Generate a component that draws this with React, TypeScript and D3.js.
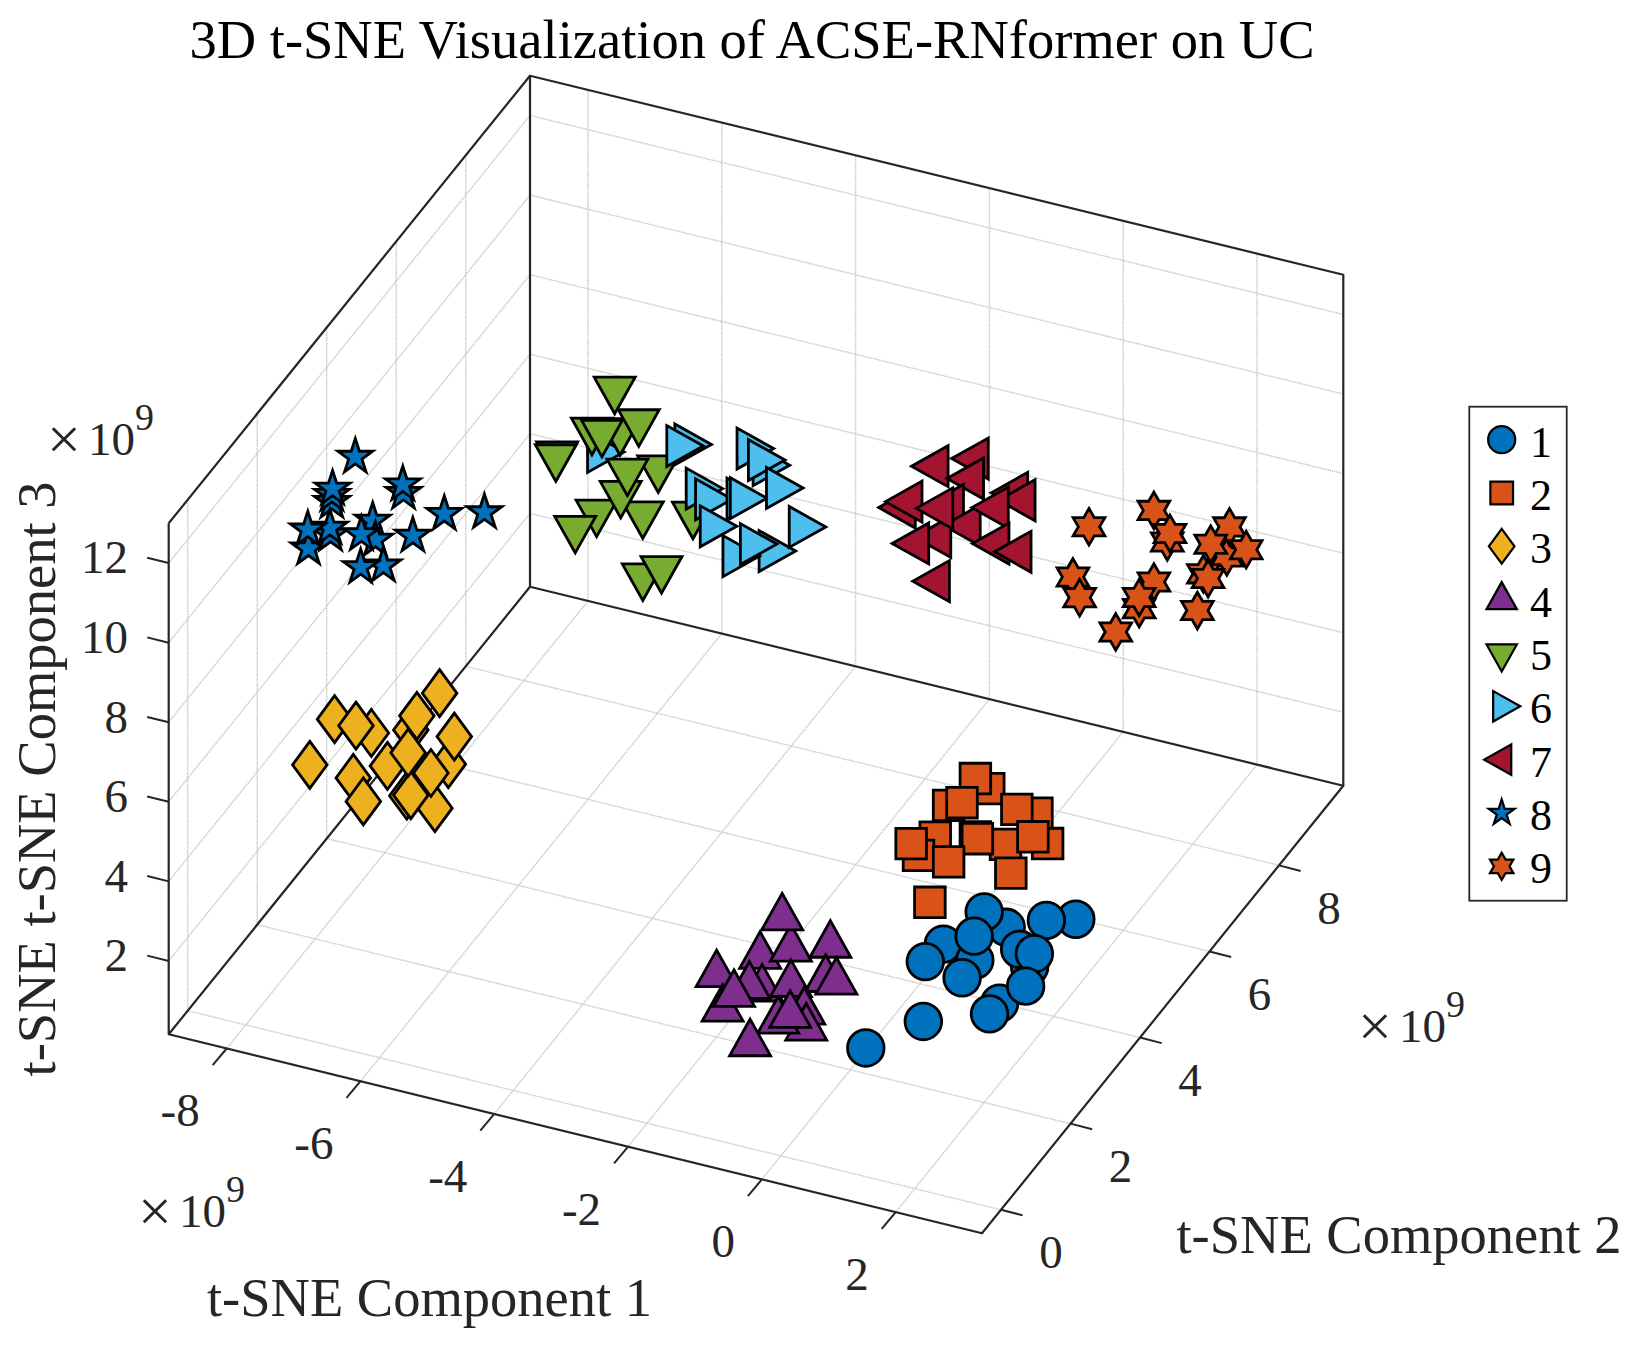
import React, { useEffect, useRef } from 'react';
import * as d3 from 'd3';

const titleText = '3D t-SNE Visualization of ACSE-RNformer on UC';
const xLabelText = 't-SNE Component 1';
const yLabelText = 't-SNE Component 2';
const zLabelText = 't-SNE t-SNE Component 3';

const xLimits = [-8.867, 3.29];
const yLimits = [-0.547, 9.85];
const zLimits = [0.156, 13.0];
const xTicks = [-8, -6, -4, -2, 0, 2];
const yTicks = [0, 2, 4, 6, 8];
const zTicks = [2, 4, 6, 8, 10, 12];

// values are in units of 1e9. one view can't give the depth of a point, so y is picked per cluster
const cluster1 = [
  [2.85, 3, 4.03], [2.41, 3, 3.82], [1.81, 3, 3.4], [1.48, 3, 3.65], [0.87, 3, 2.59], [1.34, 3, 2.38],
  [0.6, 3, 2.04], [1.15, 3, 1.86], [1.33, 3, 2.98], [2.16, 3, 2.55], [2.01, 3, 2.93], [2.23, 3, 2.91],
  [1.71, 3, 1.45], [2.1, 3, 2.04], [1.82, 2.5, 1.77], [1.09, 2, 1.82], [0.23, 2, 0.8],
];
const cluster2 = [
  [0.25, 5.5, 3.54], [0.05, 5.5, 3.71], [-0.35, 5.5, 2.87], [-0.15, 5.5, 3.02], [0.97, 5.5, 3.22], [0.67, 5.5, 3.19],
  [-0.55, 5.5, 1.99], [-0.8, 5.5, 1.43], [-0.91, 5.5, 1.68], [0.05, 5.5, 2.24], [0.5, 5.5, 2.24], [1.13, 5.5, 2.52],
  [0.08, 5.5, 2.21], [0.91, 5.5, 2.6], [-0.35, 5.5, 1.45], [0.58, 5.5, 1.55], [-0.63, 5.5, 0.32],
];
const cluster3 = [
  [-6.53, 3, 4.07], [-7.68, 3, 4.38], [-8.23, 3, 4.5], [-7.91, 3, 4.47], [-7.09, 3, 4.7], [-6.66, 3, 5.8],
  [-7.0, 3, 5.09], [-6.44, 3, 4.8], [-7.44, 3, 3.65], [-7.95, 3, 3.14], [-6.73, 3, 2.88], [-7.15, 3, 3.02],
  [-7.09, 3, 3.06], [-7.13, 3, 4.11], [-6.79, 3, 3.74], [-8.6, 3, 3.2], [-7.8, 3, 2.61],
];
const cluster4 = [
  [-1.09, 1.5, 3.26], [-0.63, 1.5, 3.63], [-0.76, 1.5, 4.36], [-0.04, 1.5, 3.97], [-1.74, 1.5, 2.53], [-1.06, 1.5, 2.45],
  [-1.25, 1.5, 2.44], [-0.11, 1.5, 3.08], [0.05, 1.5, 3.08], [-0.63, 1.5, 2.74], [-1.65, 1.5, 1.7], [-1.48, 1.5, 2.14],
  [-0.43, 1.5, 2.13], [-0.4, 1.5, 1.74], [-0.82, 1.5, 1.74], [-0.64, 1.5, 1.96], [-1.24, 1.5, 1.0],
];
const cluster5 = [
  [-6.64, 8, 7.88], [-6.56, 8, 6.87], [-6.28, 8, 7.21], [-6.98, 8, 6.71], [-6.83, 8, 6.72], [-7.5, 8, 5.9],
  [-7.52, 8, 5.82], [-5.99, 8, 6.17], [-6.91, 8, 4.68], [-6.22, 8, 4.92], [-6.55, 8, 5.3], [-6.45, 8, 5.9],
  [-5.47, 8, 5.22], [-7.23, 8, 4.14], [-6.22, 8, 3.36], [-5.94, 8, 3.66],
];
const cluster6 = [
  [-6.98, 8.4, 5.89], [-5.26, 7.6, 7.65], [-5.38, 7.6, 7.56], [-4.33, 7.6, 7.93], [-4.09, 7.6, 7.61], [-4.16, 7.6, 7.71],
  [-5.09, 7.6, 6.61], [-4.95, 7.6, 6.4], [-4.48, 7.6, 6.61], [-4.43, 7.6, 6.64], [-3.89, 7.6, 7.12], [-4.88, 7.6, 5.75],
  [-4.0, 7.6, 5.49], [-4.54, 7.6, 5.14], [-4.28, 7.6, 5.55], [-3.55, 7.6, 6.28],
];
const cluster7 = [
  [-1.33, 8, 8.48], [-1.93, 8, 8.04], [-1.4, 8, 7.95], [-2.42, 8, 6.8], [-2.32, 8, 6.99], [-1.7, 8, 7.16],
  [-1.45, 8, 6.75], [-1.89, 8, 6.28], [-1.86, 8, 7.01], [-0.74, 8, 7.86], [-0.63, 8, 7.72], [-1.03, 8, 7.37],
  [-2.22, 8, 5.98], [-1.02, 8, 6.47], [-0.69, 8, 6.4], [-1.91, 8, 5.16],
];
const cluster8 = [
  [-8.62, 3, 8.63], [-8.27, 3, 9.94], [-8.27, 3, 10.12], [-8.26, 3, 10.28], [-7.2, 3, 10.61], [-7.21, 3, 10.82],
  [-7.92, 3, 11.22], [-8.29, 3, 9.11], [-8.3, 3, 9.28], [-8.63, 3, 9.1], [-7.66, 3, 9.72], [-7.62, 3, 9.26],
  [-7.83, 3, 9.31], [-6.59, 3, 10.33], [-5.99, 3, 10.62], [-7.06, 3, 9.59], [-7.5, 3, 8.66], [-7.84, 3, 8.48],
];
const cluster9 = [
  [0.19, 8.5, 6.85], [1.16, 8.5, 7.66], [1.36, 8.5, 6.95], [1.4, 8.5, 7.18], [2.25, 8.5, 6.94], [2.29, 8.5, 7.71],
  [2.01, 8.5, 7.16], [2.54, 8.5, 7.24], [1.9, 8.5, 6.37], [1.97, 8.5, 6.28], [1.81, 8.5, 5.41], [-0.05, 8.5, 5.49],
  [0.05, 8.5, 5.01], [1.16, 8.5, 5.86], [0.94, 8.5, 5.1], [0.94, 8.5, 5.38], [0.59, 8.5, 4.37],
];

const clusters = [cluster1, cluster2, cluster3, cluster4, cluster5, cluster6, cluster7, cluster8, cluster9];
const clusterNames = ['1', '2', '3', '4', '5', '6', '7', '8', '9'];
const clusterColours = ['#0072BD', '#D95319', '#EDB120', '#7E2F8E', '#77AC30', '#4DBEEE', '#A2142F', '#0072BD', '#D95319'];

const axisColour = '#262626';
const gridColour = '#cacaca';
const serif = "'Liberation Serif', 'Times New Roman', serif";

// marker outlines around (0,0), one per cluster
const polarPoints = (n: number, outer: number, inner: number) =>
  d3.range(n * 2).map(i => {
    const a = (Math.PI * i) / n;
    const r = i % 2 === 0 ? outer : inner;
    return [r * Math.sin(a), -r * Math.cos(a)] as [number, number];
  });

const R = 18.3;
const markerOutlines: [number, number][][] = [
  [],
  [[-15.3, -15.3], [15.3, -15.3], [15.3, 15.3], [-15.3, 15.3]],
  [[0, -23.5], [17.3, 0], [0, 23.5], [-17.3, 0]],
  [[0, -18.3], [20.5, 18.3], [-20.5, 18.3]],
  [[0, 18.3], [20.5, -18.3], [-20.5, -18.3]],
  [[18.3, 0], [-18.3, -20.5], [-18.3, 20.5]],
  [[-18.3, 0], [18.3, -20.5], [18.3, 20.5]],
  polarPoints(5, R, R * 0.382),
  polarPoints(6, R, R / Math.sqrt(3)),
];
// triangles sit on their centroid in the legend
const legendShift = [[0, 0], [0, 0], [0, 0], [0, -4], [0, 5], [5, 0], [-4, 0], [0, 0], [0, 0]];

const outlinePath = d3.line().curve(d3.curveLinearClosed);
const circlePath = d3.symbol().type(d3.symbolCircle).size(Math.PI * R * R);

const App: React.FC = () => {
  const svgRef = useRef<SVGSVGElement | null>(null);

  useEffect(() => {
    if (!svgRef.current) return;
    const svg = d3.select(svgRef.current);
    svg.selectAll('*').remove();

    // box corners of the MATLAB view
    const origin = [168.7, 1034.3];
    const xEdge = [813.3, 199];
    const yEdge = [361.3, -447.6];
    const zEdge = [0, -511];

    const xs = d3.scaleLinear().domain(xLimits).range([0, 1]);
    const ys = d3.scaleLinear().domain(yLimits).range([0, 1]);
    const zs = d3.scaleLinear().domain(zLimits).range([0, 1]);

    const project = (x: number, y: number, z: number): [number, number] => [
      origin[0] + xs(x) * xEdge[0] + ys(y) * yEdge[0] + zs(z) * zEdge[0],
      origin[1] + xs(x) * xEdge[1] + ys(y) * yEdge[1] + zs(z) * zEdge[1],
    ];

    const [x0, x1] = xLimits;
    const [y0, y1] = yLimits;
    const [z0, z1] = zLimits;

    const polyline = d3.line();

    // Grid on floor and the two back walls
    const gridLines: [number, number][][] = [
      ...xTicks.map(t => [project(t, y0, z0), project(t, y1, z0), project(t, y1, z1)]),
      ...yTicks.map(t => [project(x1, t, z0), project(x0, t, z0), project(x0, t, z1)]),
      ...zTicks.map(t => [project(x0, y0, t), project(x0, y1, t), project(x1, y1, t)]),
    ];
    svg.append('g')
      .selectAll('path')
      .data(gridLines)
      .enter().append('path')
      .attr('d', d => polyline(d))
      .attr('fill', 'none')
      .attr('stroke', gridColour)
      .attr('stroke-width', 1.5)
      .attr('stroke-dasharray', '1.4 0.7');

    // Box edges
    const boxEdges: [number, number][][] = [
      [project(x0, y0, z1), project(x0, y0, z0), project(x1, y0, z0), project(x1, y1, z0), project(x0, y1, z0), project(x0, y0, z0)],
      [project(x0, y0, z1), project(x0, y1, z1), project(x1, y1, z1), project(x1, y1, z0)],
      [project(x0, y1, z0), project(x0, y1, z1)],
    ];
    svg.append('g')
      .selectAll('path')
      .data(boxEdges)
      .enter().append('path')
      .attr('d', d => polyline(d))
      .attr('fill', 'none')
      .attr('stroke', axisColour)
      .attr('stroke-width', 2.2)
      .attr('stroke-linejoin', 'round');

    // Ticks
    const tickMarks: [number, number][][] = [
      ...xTicks.map(t => {
        const p = project(t, y0, z0);
        return [p, [p[0] - 14, p[1] + 16.7]] as [number, number][];
      }),
      ...yTicks.map(t => {
        const p = project(x1, t, z0);
        return [p, [p[0] + 21.7, p[1] + 5.6]] as [number, number][];
      }),
      ...zTicks.map(t => {
        const p = project(x0, y0, t);
        return [p, [p[0] - 21.5, p[1] - 5.3]] as [number, number][];
      }),
    ];
    svg.append('g')
      .selectAll('path')
      .data(tickMarks)
      .enter().append('path')
      .attr('d', d => polyline(d))
      .attr('stroke', axisColour)
      .attr('stroke-width', 2);

    const addText = (str: string, x: number, y: number, size: number, anchor = 'start', fill = axisColour) =>
      svg.append('text')
        .attr('x', x)
        .attr('y', y)
        .attr('text-anchor', anchor)
        .style('font-family', serif)
        .style('font-size', `${size}px`)
        .attr('fill', fill)
        .text(str);

    // Tick labels
    xTicks.forEach(t => {
      const p = project(t, y0, z0);
      addText(`${t}`, p[0] - 27, p[1] + 78, 47, 'end');
    });
    yTicks.forEach(t => {
      const p = project(x1, t, z0);
      addText(`${t}`, p[0] + 50, p[1] + 58.5, 47, 'middle');
    });
    zTicks.forEach(t => {
      const p = project(x0, y0, t);
      addText(`${t}`, 128, p[1] + 10.3, 47, 'end');
    });

    // x10^9 multipliers
    const addExponent = (x: number, y: number) => {
      addText('×', x - 3, y + 4, 60);
      addText('10', x + 38, y, 47);
      addText('9', x + 85, y - 25, 38);
    };
    addExponent(141, 1226.7);
    addExponent(1361, 1042);
    addExponent(50, 454.5);

    // Title and axis labels
    addText(titleText, 752, 58, 54.5, 'middle', '#000');
    addText(xLabelText, 429.5, 1316, 54.5, 'middle');
    addText(yLabelText, 1399, 1253, 54.5, 'middle');
    addText(zLabelText, 0, 0, 54.5, 'middle')
      .attr('transform', 'translate(55,779) rotate(-90)');

    // Markers, far ones first
    const points = clusters
      .flatMap((list, c) => list.map(p => ({ c, x: p[0], y: p[1], z: p[2] })))
      .sort((a, b) => b.y - a.y);

    const markerPath = (c: number) => (c === 0 ? circlePath() : outlinePath(markerOutlines[c]));

    svg.append('g')
      .selectAll('path')
      .data(points)
      .enter().append('path')
      .attr('d', d => markerPath(d.c))
      .attr('transform', d => `translate(${project(d.x, d.y, d.z).join(',')})`)
      .attr('fill', d => clusterColours[d.c])
      .attr('stroke', '#000')
      .attr('stroke-width', 2.8)
      .attr('stroke-miterlimit', 10);

    // Legend
    const legendX = 1469.3;
    const legendY = 406.7;
    const rowY = d3.scalePoint().domain(clusterNames).range([439.7, 866.3]);

    svg.append('rect')
      .attr('x', legendX)
      .attr('y', legendY)
      .attr('width', 97.4)
      .attr('height', 494)
      .attr('fill', '#fff')
      .attr('stroke', axisColour)
      .attr('stroke-width', 1.8);

    const legend = svg.append('g')
      .selectAll('g')
      .data(clusterNames)
      .enter().append('g');

    legend.append('path')
      .attr('d', (d, i) => markerPath(i))
      .attr('transform', (d, i) =>
        `translate(${1501.7 + legendShift[i][0]},${(rowY(d) ?? 0) + legendShift[i][1]}) scale(0.74)`)
      .attr('fill', (d, i) => clusterColours[i])
      .attr('stroke', '#000')
      .attr('stroke-width', 3);

    legend.append('text')
      .attr('x', 1530)
      .attr('y', d => (rowY(d) ?? 0) + 17)
      .style('font-family', serif)
      .style('font-size', '44px')
      .attr('fill', '#000')
      .text(d => d);
  }, []);

  return (
    <svg
      ref={svgRef}
      width={1639}
      height={1347}
      style={{ position: 'absolute', left: 0, top: 0, background: '#fff' }}
    />
  );
};

export default App;
